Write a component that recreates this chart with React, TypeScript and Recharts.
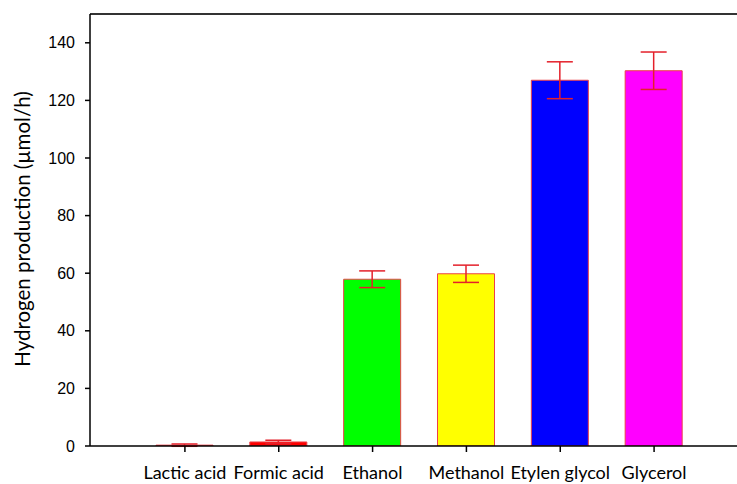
import React from "react";
import { BarChart, Bar, XAxis, YAxis, Cell, ErrorBar, ReferenceLine } from "recharts";

// Hydrogen production per sacrificial agent, with standard-deviation error bars
const agents = ["Lactic acid", "Formic acid", "Ethanol", "Methanol", "Etylen glycol", "Glycerol"];
const production = [0.3, 1.4, 57.9, 59.8, 127.0, 130.3];
const deviation = [0.4, 0.6, 2.9, 3.0, 6.4, 6.5];
const fills = ["#ff0000", "#ff0000", "#00ff00", "#ffff00", "#0000ff", "#ff00ff"];
const yTicks = [0, 20, 40, 60, 80, 100, 120, 140];

const data = agents.map((name, i) => ({ name, value: production[i], err: deviation[i] }));

const YLabel = () => (
  <text
    x={22}
    y={229}
    transform="rotate(-90, 22, 229)"
    textAnchor="middle"
    dominantBaseline="central"
    fontFamily="Lato, 'Open Sans', sans-serif"
    fontSize={20.5}
    fill="#000"
  >
    Hydrogen production (µmol/h)
  </text>
);

export default function App() {
  return (
    <div style={{ position: "absolute", left: 0, top: 0, width: 737, height: 484, background: "#fff" }}>
      <BarChart width={737} height={484} data={data} margin={{ top: 14, right: 0, bottom: 0, left: 0 }}>
        <XAxis
          dataKey="name"
          height={38}
          padding={{ left: 48, right: 36 }}
          tickSize={6}
          tickMargin={14}
          interval={0}
          stroke="#000"
          strokeWidth={1.5}
          tick={{ fontFamily: "Lato, 'Open Sans', sans-serif", fontSize: 18, fill: "#000" }}
        />
        <YAxis
          width={90}
          domain={[0, 150]}
          ticks={yTicks}
          allowDataOverflow
          tickSize={5}
          tickMargin={10}
          stroke="#000"
          strokeWidth={1.5}
          tick={{ fontFamily: "'Liberation Sans', Arial, sans-serif", fontSize: 16, fill: "#000" }}
          label={<YLabel />}
        />
        <ReferenceLine y={150} stroke="#333" strokeWidth={2} />
        <Bar dataKey="value" barSize={57} stroke="#ec4048" strokeWidth={1} isAnimationActive={false}>
          {data.map((d, i) => (
            <Cell key={d.name} fill={fills[i]} />
          ))}
          <ErrorBar dataKey="err" width={13} stroke="#e4202a" strokeWidth={1.5} direction="y" />
        </Bar>
      </BarChart>
    </div>
  );
}
